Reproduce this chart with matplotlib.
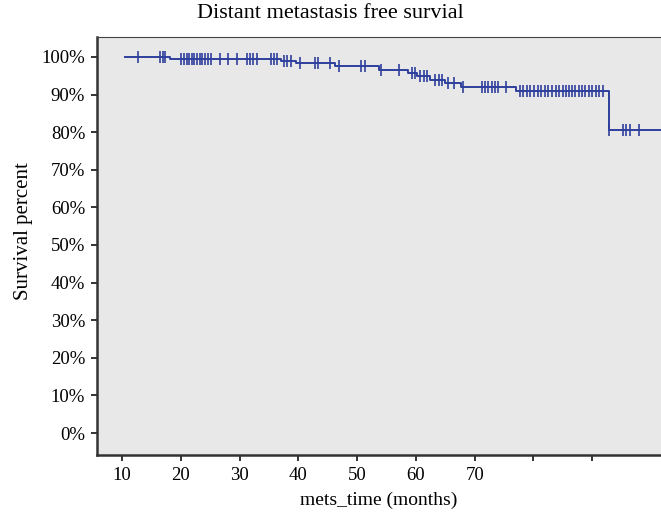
import matplotlib.pyplot as plt
import numpy as np

plt.rcParams['font.family'] = ['Liberation Serif', 'DejaVu Serif']

# Kaplan-Meier step function: times where the curve
# drops and the survival level (percent) after each drop
step_times = [10.6, 18.2, 37.1, 39.6, 46.2, 53.7, 58.7, 60.2, 62.4, 65.0, 67.7, 77.1, 92.8, 102.0]
step_levels = [100.0, 99.4, 98.8, 98.3, 97.7, 96.4, 95.6, 94.8, 93.9, 93.0, 91.9, 91.0, 80.7, 80.7]

# censored observations (months)
censor_times = [12.8, 16.5, 16.9, 17.3,
                20.1, 20.5, 21.0, 21.4, 21.9, 22.3, 22.8, 23.3, 23.7, 24.2, 24.7, 25.2,
                26.7, 28.1, 29.5, 31.2, 31.7, 32.3, 32.9, 35.3, 35.8, 36.4,
                37.5, 38.1, 38.7,
                40.3, 42.8, 43.3, 45.4,
                46.9, 50.6, 51.3,
                54.0, 57.2,
                59.3, 59.9,
                60.7, 61.3, 61.9,
                63.3, 63.9, 64.5,
                65.4, 66.5,
                68.1, 71.2, 71.7, 72.3, 72.9, 73.4, 74.0, 75.4,
                77.7, 78.3, 78.9, 79.5, 80.1, 80.7, 81.3, 81.9, 82.5, 83.1, 83.8, 84.4,
                85.0, 85.5, 86.0, 86.6, 87.1, 87.7, 88.2, 88.8, 89.4, 90.0, 90.6, 91.2, 91.8,
                92.9, 95.2, 95.8, 96.4, 98.0]

x_ticks = [10, 20, 30, 40, 50, 60, 70, 80, 90]
x_tick_labels = ['10', '20', '30', '40', '50', '60', '70', '', '']
y_ticks = [0, 10, 20, 30, 40, 50, 60, 70, 80, 90, 100]

line_color = '#2f3f9c'

fig = plt.figure(figsize=(6.61, 5.16), dpi=100)
ax = fig.add_axes([0.1467, 0.1182, 0.8533, 0.8101])
ax.set_facecolor('#e8e8e8')

ax.step(step_times, step_levels, where='post', color=line_color, lw=1.4)

# level of the curve at each censored time
idx = np.searchsorted(step_times, censor_times, side='right') - 1
censor_levels = np.array(step_levels)[idx]
ax.plot(censor_times, censor_levels, ls='none', marker='|', ms=8, mew=1.2,
        color=line_color)

ax.set_xlim(5.75, 101.7)
ax.set_ylim(-5.85, 105.3)
ax.set_xticks(x_ticks)
ax.set_xticklabels(x_tick_labels)
ax.set_yticks(y_ticks)
ax.set_yticklabels([f'{v}%' for v in y_ticks])
ax.tick_params(labelsize=13.5, length=4.5, width=1.4, color='#333333', pad=4)

for side in ['left', 'bottom']:
    ax.spines[side].set_linewidth(1.8)
    ax.spines[side].set_color('#333333')
ax.spines['top'].set_linewidth(0.8)
ax.spines['top'].set_color('#444444')
ax.spines['right'].set_visible(False)

fig.text(0.5, 1 - 13 / 516, 'Distant metastasis free survial', fontsize=16,
         ha='center', va='center')
ax.set_xlabel('mets_time (months)', fontsize=14, labelpad=6)
ax.set_ylabel('Survival percent', fontsize=15)
ax.yaxis.set_label_coords(-0.114, 0.535)

fig.savefig('out.png', dpi=100)
